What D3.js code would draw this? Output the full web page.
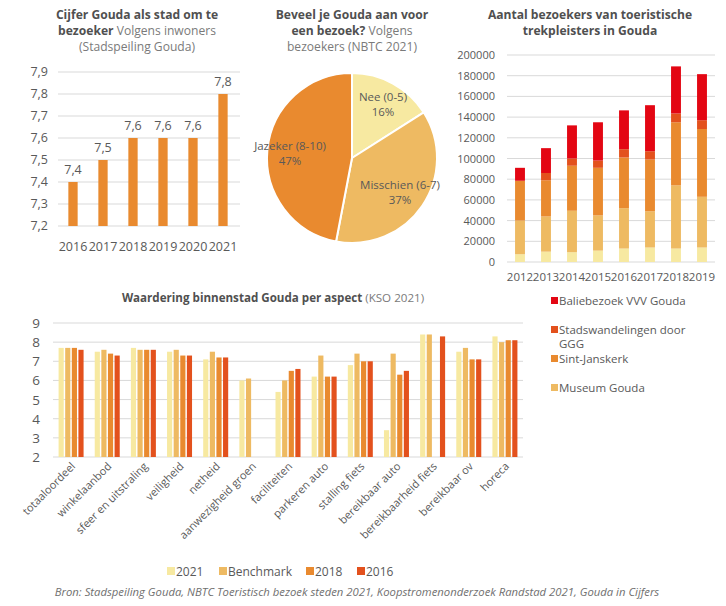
<!DOCTYPE html>
<html><head><meta charset="utf-8">
<script src="https://cdn.jsdelivr.net/npm/d3@7"></script>
<style>
body{margin:0;background:#fff;}
svg{display:block;font-family:"Open Sans",sans-serif;}
</style></head>
<body><svg id="c" width="726" height="606"></svg>
<script>
// ---------- Data ----------
const cijferYears = ["2016","2017","2018","2019","2020","2021"];
const cijferValues = [7.4,7.5,7.6,7.6,7.6,7.8];
const cijferTicks = [7.2,7.3,7.4,7.5,7.6,7.7,7.8,7.9];

const pieLabels = ["Nee (0-5)","Misschien (6-7)","Jazeker (8-10)"];
const pieValues = [16,37,47];

const visitYears = ["2012","2013","2014","2015","2016","2017","2018","2019"];
const visitOverig = [7500,10000,9500,11000,13000,14000,13000,14000];
const visitMuseum = [32500,34000,40000,34000,39000,35000,61000,49000];
const visitJanskerk = [38500,35000,43500,46000,49000,50000,61000,65500];
const visitStadswandel = [0,7000,7000,7000,8000,8000,8500,8500];
const visitVVV = [12500,24000,32000,37000,37500,44500,45500,44500];
const visitLegend = ["Baliebezoek VVV Gouda","Stadswandelingen door GGG","Sint-Janskerk","Museum Gouda"];

const aspects = ["totaaloordeel","winkelaanbod","sfeer en uitstraling","veiligheid","netheid","aanwezigheid groen","faciliteiten","parkeren auto","stalling fiets","bereikbaar auto","bereikbaarheid fiets","bereikbaar ov","horeca"];
const aspectSeries = ["2021","Benchmark","2018","2016"];
const val2021 = [7.7,7.5,7.7,7.5,7.1,6.0,5.4,6.2,6.8,3.4,8.4,7.5,8.3];
const valBenchmark = [7.7,7.6,7.6,7.6,7.5,6.1,6.0,7.3,7.4,7.4,8.4,7.7,8.0];
const val2018 = [7.7,7.4,7.6,7.3,7.2,null,6.5,6.2,7.0,6.3,null,7.1,8.1];
const val2016 = [7.6,7.3,7.6,7.3,7.2,null,6.6,6.2,7.0,6.5,8.3,7.1,8.1];
const aspectTicks = [2,3,4,5,6,7,8,9];

const sourceText = "Bron: Stadspeiling Gouda, NBTC Toeristisch bezoek steden 2021, Koopstromenonderzoek Randstad 2021, Gouda in Cijfers";

// ---------- Styles ----------
const C_YEL = "#F7E9A1", C_LOR = "#EEBA62", C_OR = "#E98A2F", C_DOR = "#E3511D", C_RED = "#E30613";
const TXT = "#595959", GRID = "#D9D9D9";

const svg = d3.select("#c");
svg.append("rect").attr("width",726).attr("height",606).attr("fill","#fff");

function title(x, lines, y0, lh, fs){
  lines.forEach((parts,i)=>{
    const t = svg.append("text").attr("x",x).attr("y",y0+i*lh).attr("text-anchor","middle")
      .attr("font-size",fs).attr("fill",TXT);
    parts.forEach(p=>{
      t.append("tspan").attr("font-weight",p[1]?"bold":"normal").attr("fill",p[1]?"#505050":"#7a7a7a").text(p[0]);
    });
  });
}

// ---------- Chart 1: Cijfer ----------
{
  const x = d3.scaleBand().domain(cijferYears).range([58,238]).paddingInner(0.69).paddingOuter(0.345);
  const y = d3.scaleLinear().domain([7.2,7.9]).range([226,72]);
  const g = svg.append("g");
  g.selectAll("line.grid").data(cijferTicks).join("line")
    .attr("x1",58).attr("x2",240).attr("y1",d=>y(d)).attr("y2",d=>y(d))
    .attr("stroke",GRID).attr("stroke-width",1);
  g.selectAll("text.yt").data(cijferTicks).join("text")
    .attr("x",48).attr("y",d=>y(d)+4).attr("text-anchor","end").attr("font-size",12.5).attr("fill",TXT)
    .text(d=>d3.format(".1f")(d).replace(".",","));
  g.selectAll("rect").data(cijferValues).join("rect")
    .attr("x",(d,i)=>x(cijferYears[i])).attr("width",x.bandwidth())
    .attr("y",d=>y(d)).attr("height",d=>y(7.2)-y(d)).attr("fill",C_OR);
  g.selectAll("text.lab").data(cijferValues).join("text")
    .attr("x",(d,i)=>x(cijferYears[i])+x.bandwidth()/2).attr("y",d=>y(d)-8)
    .attr("text-anchor","middle").attr("font-size",12.5).attr("fill",TXT)
    .text(d=>d3.format(".1f")(d).replace(".",","));
  g.selectAll("text.xt").data(cijferYears).join("text")
    .attr("x",d=>x(d)+x.bandwidth()/2).attr("y",251).attr("text-anchor","middle")
    .attr("font-size",12.5).attr("fill",TXT).text(d=>d);
  title(137,[[["Cijfer Gouda als stad om te",true]],[["bezoeker",true],[" Volgens inwoners",false]],[["(Stadspeiling Gouda)",false]]],19,16,12.1);
}

// ---------- Chart 2: Pie ----------
{
  const cx = 352, cy = 158, r = 85;
  const colors = [C_YEL, C_LOR, C_OR];
  const pie = d3.pie().sort(null).value(d=>d)(pieValues);
  const arc = d3.arc().innerRadius(0).outerRadius(r);
  const g = svg.append("g").attr("transform",`translate(${cx},${cy})`);
  g.selectAll("path").data(pie).join("path").attr("d",arc)
    .attr("fill",(d,i)=>colors[i]).attr("stroke","#fff").attr("stroke-width",2);
  const labPos = [[31,-57],[48,31],[-62,-8]];
  pie.forEach((d,i)=>{
    const t = g.append("text").attr("text-anchor","middle").attr("font-size",11.5).attr("fill",TXT);
    t.append("tspan").attr("x",labPos[i][0]).attr("y",labPos[i][1]).text(pieLabels[i]);
    t.append("tspan").attr("x",labPos[i][0]).attr("y",labPos[i][1]+15).text(pieValues[i]+"%");
  });
  title(352,[[["Beveel je Gouda aan voor",true]],[["een bezoek?",true],[" Volgens",false]],[["bezoekers (NBTC 2021)",false]]],19,16,12.1);
}

// ---------- Chart 3: Stacked visitors ----------
{
  const x = d3.scaleBand().domain(visitYears).range([507,715]).paddingInner(0.62).paddingOuter(0.31);
  const y = d3.scaleLinear().domain([0,200000]).range([262,55]);
  const keys = ["overig","museum","janskerk","stadswandel","vvv"];
  const colors = {overig:C_YEL,museum:C_LOR,janskerk:C_OR,stadswandel:C_DOR,vvv:C_RED};
  const rows = visitYears.map((yr,i)=>({year:yr,overig:visitOverig[i],museum:visitMuseum[i],janskerk:visitJanskerk[i],stadswandel:visitStadswandel[i],vvv:visitVVV[i]}));
  const stack = d3.stack().keys(keys)(rows);
  const g = svg.append("g");
  const ticks = d3.range(0,200001,20000);
  g.selectAll("line.grid").data(ticks).join("line")
    .attr("x1",507).attr("x2",715).attr("y1",d=>y(d)).attr("y2",d=>y(d))
    .attr("stroke",GRID);
  g.selectAll("text.yt").data(ticks).join("text")
    .attr("x",495).attr("y",d=>y(d)+4).attr("text-anchor","end").attr("font-size",11).attr("fill",TXT).text(d=>d);
  stack.forEach(s=>{
    g.selectAll(null).data(s).join("rect")
      .attr("x",d=>x(d.data.year)).attr("width",x.bandwidth())
      .attr("y",d=>y(d[1])).attr("height",d=>y(d[0])-y(d[1])).attr("fill",colors[s.key]);
  });
  g.selectAll("text.xt").data(visitYears).join("text")
    .attr("x",d=>x(d)+x.bandwidth()/2).attr("y",281).attr("text-anchor","middle")
    .attr("font-size",11.5).attr("fill",TXT).text(d=>d);
  title(590,[[["Aantal bezoekers van toeristische",true]],[["trekpleisters in Gouda",true]]],19,16,12.1);
  // legend
  const legColors = [C_RED,C_DOR,C_OR,C_LOR];
  const legY = [305,334,363,392];
  visitLegend.forEach((name,i)=>{
    g.append("rect").attr("x",551).attr("y",legY[i]-8).attr("width",7).attr("height",7).attr("fill",legColors[i]);
    if(i===1){
      const t = g.append("text").attr("font-size",11.5).attr("fill",TXT);
      t.append("tspan").attr("x",559).attr("y",legY[i]).text("Stadswandelingen door");
      t.append("tspan").attr("x",559).attr("y",legY[i]+13.5).text("GGG");
    } else {
      g.append("text").attr("x",559).attr("y",legY[i]).attr("font-size",11.5).attr("fill",TXT).text(name);
    }
  });
}

// ---------- Chart 4: Aspects ----------
{
  const x0 = d3.scaleBand().domain(aspects).range([53,523]);
  const x1 = d3.scaleBand().domain(aspectSeries).range([-12.5,12.5]).paddingInner(0.22);
  const y = d3.scaleLinear().domain([2,9]).range([457,323]);
  const colors = [C_YEL,C_LOR,C_OR,C_DOR];
  const vals = [val2021,valBenchmark,val2018,val2016];
  const g = svg.append("g");
  g.selectAll("line.grid").data(aspectTicks).join("line")
    .attr("x1",53).attr("x2",523).attr("y1",d=>y(d)).attr("y2",d=>y(d)).attr("stroke",GRID);
  g.selectAll("text.yt").data(aspectTicks).join("text")
    .attr("x",40).attr("y",d=>y(d)+5).attr("text-anchor","end").attr("font-size",13.5).attr("fill",TXT).text(d=>d);
  aspectSeries.forEach((s,si)=>{
    const data = aspects.map((a,i)=>({a,v:vals[si][i]})).filter(d=>d.v!=null);
    g.selectAll(null).data(data).join("rect")
      .attr("x",d=>x0(d.a)+x0.bandwidth()/2+x1(s)).attr("width",x1.bandwidth())
      .attr("y",d=>y(d.v)).attr("height",d=>y(2)-y(d.v)).attr("fill",colors[si]);
  });
  g.selectAll("text.xt").data(aspects).join("text")
    .attr("transform",d=>`translate(${x0(d)+x0.bandwidth()/2+5},${467}) rotate(-45)`)
    .attr("text-anchor","end").attr("font-size",11).attr("fill",TXT).text(d=>d);
  const t = svg.append("text").attr("x",273).attr("y",302).attr("text-anchor","middle").attr("font-size",11.6);
  t.append("tspan").attr("font-weight","bold").attr("fill","#505050").text("Waardering binnenstad Gouda per aspect");
  t.append("tspan").attr("fill","#7a7a7a").text(" (KSO 2021)");
  // legend
  const lx = [167,219,306,357];
  aspectSeries.forEach((s,i)=>{
    svg.append("rect").attr("x",lx[i]).attr("y",567).attr("width",8).attr("height",8).attr("fill",colors[i]);
    svg.append("text").attr("x",lx[i]+9).attr("y",576).attr("font-size",12).attr("fill",TXT).text(s);
  });
}

svg.append("text").attr("x",357).attr("y",596).attr("text-anchor","middle").attr("font-size",11.3)
  .attr("font-style","italic").attr("fill","#6f6f6f").text(sourceText);
</script>
</body></html>
